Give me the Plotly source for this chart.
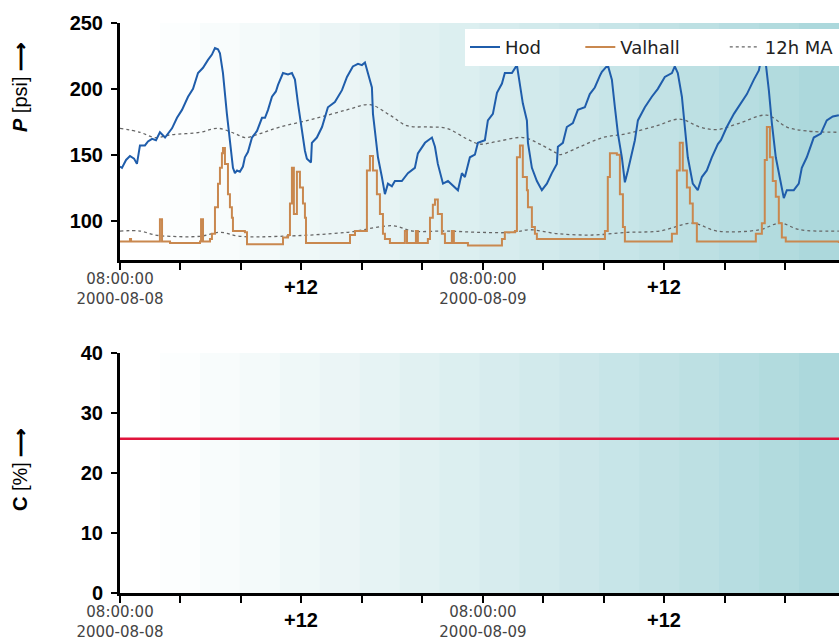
import pandas as pd
import plotly.graph_objects as go

BASE = pd.Timestamp("2000-08-08 08:00:00")

# ---- data (hours after 2000-08-08 08:00) ----
hod_hours = [0.00, 0.13, 0.40, 0.66, 0.93, 1.12, 1.32, 1.65, 1.85, 2.12, 2.38, 2.64, 2.98, 3.17, 3.44, 3.77,
             4.10, 4.50, 4.83, 5.16, 5.49, 5.82, 6.08, 6.28, 6.48, 6.61, 6.81, 7.07, 7.27, 7.47, 7.60, 7.74,
             7.93, 8.13, 8.26, 8.46, 8.73, 9.06, 9.39, 9.59, 9.79, 10.05, 10.31, 10.45, 10.78, 11.11, 11.37,
             11.57, 11.77, 12.03, 12.23, 12.36, 12.63, 12.69, 13.02, 13.36, 13.75, 14.21, 14.68, 15.01, 15.40,
             15.74, 16.00, 16.20, 16.40, 16.66, 16.73, 16.86, 17.06, 17.32, 17.52, 17.72, 17.98, 18.18, 18.64,
             19.04, 19.50, 19.70, 20.17, 20.63, 20.83, 21.02, 21.36, 21.69, 21.95, 22.15, 22.35, 22.61, 22.81,
             23.14, 23.47, 23.67, 24.13, 24.33, 24.66, 24.93, 25.26, 25.45, 25.92, 26.25, 26.45, 26.64, 26.91,
             26.98, 27.24, 27.57, 27.90, 28.23, 28.56, 28.89, 28.96, 29.29, 29.55, 29.95, 30.28, 30.74, 31.07,
             31.40, 31.74, 31.87, 32.26, 32.53, 32.73, 32.93, 33.19, 33.39, 33.59, 33.85, 34.05, 34.25, 34.71,
             35.17, 35.57, 36.03, 36.50, 36.69, 36.89, 37.16, 37.36, 37.55, 37.88, 38.21, 38.48, 38.81, 39.14,
             39.54, 39.74, 40.13, 40.60, 41.06, 41.46, 41.92, 42.25, 42.45, 42.71, 42.91, 43.11, 43.37, 43.70,
             43.90, 44.10, 44.56, 44.89, 45.09, 45.42, 45.88, 46.35, 46.74, 47.14, 47.54]
hod_psi = [141, 140, 146, 149, 147, 143, 157, 157, 160, 162, 161, 167, 163, 166, 170, 178,
           184, 194, 200, 212, 216, 222, 226, 231, 230, 227, 212, 181, 161, 140, 136, 138,
           137, 141, 148, 152, 163, 168, 178, 178, 184, 194, 198, 203, 212, 211, 212,
           207, 189, 168, 153, 147, 144, 159, 163, 171, 186, 190, 199, 209, 217,
           219, 218, 220, 212, 201, 181, 168, 148, 133, 120, 128, 126, 130, 130,
           136, 140, 151, 159, 163, 156, 143, 128, 130, 127, 125, 123, 136, 133,
           148, 150, 159, 161, 176, 181, 197, 204, 212, 212, 218, 204, 189, 176,
           159, 140, 130, 123, 128, 136, 143, 156, 159, 171, 174, 184, 186, 196,
           201, 210, 213, 218, 207, 186, 166, 148, 129, 138, 151, 161, 176, 186,
           194, 200, 209, 212, 217, 212, 194, 171, 148, 128, 123, 133, 138, 148,
           158, 161, 171, 181, 189, 196, 207, 214, 225, 219, 199, 174, 148, 130,
           117, 123, 123, 128, 140, 148, 163, 166, 176, 179, 180]

valhall_hours = [0.00, 0.53, 0.66, 0.73, 2.51, 2.64, 2.78, 3.31, 5.29, 5.36, 5.49, 5.95, 6.08, 6.28, 6.48,
                 6.61, 6.74, 6.81, 6.94, 7.14, 7.27, 7.40, 7.47, 7.93, 8.26, 8.40, 10.71, 10.78, 11.11,
                 11.24, 11.37, 11.50, 11.70, 11.90, 12.10, 12.23, 12.30, 15.07, 15.21, 15.54, 16.20, 16.33,
                 16.53, 16.73, 16.99, 17.19, 17.39, 17.52, 17.85, 18.78, 18.84, 18.98, 19.50, 19.57, 19.70,
                 20.36, 20.50, 20.69, 20.83, 21.02, 21.29, 21.49, 21.88, 21.95, 22.08, 22.88, 23.01, 24.79,
                 25.26, 25.45, 26.12, 26.25, 26.45, 26.64, 26.91, 26.98, 27.24, 27.44, 27.57, 31.87, 32.07,
                 32.26, 32.40, 32.86, 33.06, 33.26, 33.39, 36.03, 36.50, 36.83, 37.02, 37.22, 37.49, 37.69,
                 37.88, 38.15, 41.79, 42.05, 42.45, 42.64, 42.78, 42.98, 43.17, 43.37, 43.57, 43.77, 44.03,
                 47.54]
valhall_psi = [84, 84, 86, 84, 84, 101, 84, 83, 84, 101, 84, 86, 90, 110, 128,
               140, 151, 155, 143, 120, 110, 102, 92, 92, 91, 82, 82, 87, 89,
               113, 140, 105, 137, 125, 113, 102, 83, 83, 89, 92, 92, 138,
               149, 138, 120, 105, 90, 86, 83, 83, 92, 83, 83, 92, 83,
               86, 102, 112, 116, 105, 90, 83, 83, 92, 83, 83, 81, 81,
               86, 91, 92, 148, 157, 133, 123, 110, 95, 90, 86, 86, 92,
               133, 151, 150, 120, 95, 84, 84, 90, 138, 159, 138, 125, 113,
               98, 84, 84, 90, 98, 146, 171, 148, 130, 118, 98, 87, 84,
               83]

hod_ma_hours = [0.00, 1.32, 2.31, 3.31, 5.29, 6.48, 7.60, 8.26, 9.26, 10.58, 12.76, 15.01, 16.53, 17.85,
                18.98, 20.50, 21.62, 22.94, 23.80, 24.93, 26.64, 27.77, 28.89, 29.09, 30.41, 31.93, 33.52,
                35.50, 37.02, 38.35, 39.47, 40.99, 42.78, 44.10, 45.42, 47.54]
hod_ma_psi = [170, 167, 163, 165, 167, 170, 166, 163, 166, 171, 177, 184, 188, 180,
              172, 171, 170, 162, 158, 160, 163, 158, 151, 150, 156, 163, 166,
              172, 177, 171, 169, 174, 180, 171, 168, 167]

valhall_ma_hours = [0.00, 1.32, 2.31, 3.31, 5.29, 6.61, 7.93, 10.58, 15.01, 18.05, 19.37, 21.62, 23.80,
                    25.98, 27.11, 28.89, 31.27, 33.52, 35.70, 37.88, 39.47, 42.31, 43.64, 44.96, 47.54]
valhall_ma_psi = [92, 92, 89, 88, 88, 91, 88, 88, 91, 96, 92, 92, 91,
                  91, 93, 90, 89, 91, 92, 98, 92, 93, 98, 93, 92]

c_hours = [0.0, 47.6]
c_pct = [25.7, 25.7]

tick_hours = [0, 4, 8, 12, 16, 20, 24, 28, 32, 36, 40, 44, 48]
tick_text = ["08:00:00<br>2000-08-08", "", "", "", "", "", "08:00:00<br>2000-08-09", "", "", "", "", "", ""]
plus12_hours = [12, 36]
p_ticks = [100, 150, 200, 250]
c_ticks = [0, 10, 20, 30, 40]
x_end_hours = 47.55

NB = "\u00a0"


def t(hrs):
    return [BASE + pd.Timedelta(hours=h) for h in hrs]


fig = go.Figure()

HOD = "#1f5dab"
VAL = "#c9884f"
MA = "#666666"

fig.add_trace(go.Scatter(x=t(hod_ma_hours), y=hod_ma_psi, mode="lines", name="12h MA",
                         line=dict(color=MA, width=1.3, dash="dot", shape="spline"),
                         xaxis="x", yaxis="y", legendrank=3))
fig.add_trace(go.Scatter(x=t(valhall_ma_hours), y=valhall_ma_psi, mode="lines", name="12h MA",
                         showlegend=False,
                         line=dict(color=MA, width=1.3, dash="dot", shape="spline"),
                         xaxis="x", yaxis="y"))
fig.add_trace(go.Scatter(x=t(valhall_hours), y=valhall_psi, mode="lines", name="Valhall" + NB * 7,
                         line=dict(color=VAL, width=2, shape="hv"), xaxis="x", yaxis="y", legendrank=2))
fig.add_trace(go.Scatter(x=t(hod_hours), y=hod_psi, mode="lines", name="Hod" + NB * 6,
                         line=dict(color=HOD, width=2), xaxis="x", yaxis="y", legendrank=1))
fig.add_trace(go.Scatter(x=t(c_hours), y=c_pct, mode="lines", name="C", showlegend=False,
                         line=dict(color="#e0143c", width=2.5), xaxis="x2", yaxis="y2"))

# gradient background stripes
shapes = []
N = 18
c0 = (255, 255, 255)
c1 = (172, 216, 220)
for xr, yr in (("x domain", "y domain"), ("x2 domain", "y2 domain")):
    for i in range(N):
        f = (i / (N - 1)) ** 1.15
        col = "rgb(%d,%d,%d)" % tuple(round(a + (b - a) * f) for a, b in zip(c0, c1))
        shapes.append(dict(type="rect", xref=xr, yref=yr, x0=i / N, x1=(i + 1) / N + 0.002,
                           y0=0, y1=1, fillcolor=col, line=dict(width=0), layer="below"))

xcommon = dict(type="date", range=[BASE, BASE + pd.Timedelta(hours=x_end_hours)],
               tickvals=t(tick_hours), ticktext=tick_text, ticks="outside", ticklen=7,
               tickwidth=1.5, tickcolor="black", showline=True, linecolor="black", linewidth=3,
               showgrid=False, zeroline=False, automargin=False, ticklabelstandoff=-4,
               tickfont=dict(family="DejaVu Sans", size=15, color="#444444"))
ycommon = dict(ticks="outside", ticklen=6, tickwidth=1.5, tickcolor="black", showline=True,
               linecolor="black", linewidth=3, showgrid=False, zeroline=False, automargin=False,
               tickfont=dict(family="Liberation Sans", size=20, color="black", weight="bold"),
               ticklabelstandoff=4)

annotations = []
for h in plus12_hours:
    annotations.append(dict(x=BASE + pd.Timedelta(hours=h), xref="x", y=0.5368, yref="paper",
                            text="<b>+12</b>", showarrow=False, xanchor="center", yanchor="middle",
                            font=dict(family="Liberation Sans", size=20, color="black")))
    annotations.append(dict(x=BASE + pd.Timedelta(hours=h), xref="x2", y=-0.0474, yref="paper",
                            text="<b>+12</b>", showarrow=False, xanchor="center", yanchor="middle",
                            font=dict(family="Liberation Sans", size=20, color="black")))
annotations.append(dict(x=-0.139, xref="paper", y=0.8877, yref="paper", textangle=-90,
                        xanchor="center", yanchor="middle",
                        text="<b><i>P</i></b> [psi] <b>⟶</b>", showarrow=False,
                        font=dict(family="Liberation Sans", size=20, color="black")))
annotations.append(dict(x=-0.139, xref="paper", y=0.2158, yref="paper", textangle=-90,
                        xanchor="center", yanchor="middle",
                        text="<b>C</b> [%] <b>⟶</b>", showarrow=False,
                        font=dict(family="Liberation Sans", size=20, color="black")))

fig.update_layout(
    width=839, height=639,
    margin=dict(l=120, r=0, t=23, b=46, autoexpand=False),
    paper_bgcolor="white", plot_bgcolor="white",
    xaxis=dict(xcommon, domain=[0, 1], anchor="y"),
    yaxis=dict(ycommon, domain=[0.5842, 1], range=[70, 250], tickvals=p_ticks),
    xaxis2=dict(xcommon, domain=[0, 1], anchor="y2"),
    yaxis2=dict(ycommon, domain=[0, 0.4211], range=[0, 40], tickvals=c_ticks),
    shapes=shapes,
    annotations=annotations,
    legend=dict(orientation="h", x=1, xanchor="right", y=0.99, yanchor="top",
                bgcolor="white", font=dict(family="DejaVu Sans", size=18, color="#222222"),
                traceorder="normal"),
    showlegend=True,
)

fig.write_html("out.html")
